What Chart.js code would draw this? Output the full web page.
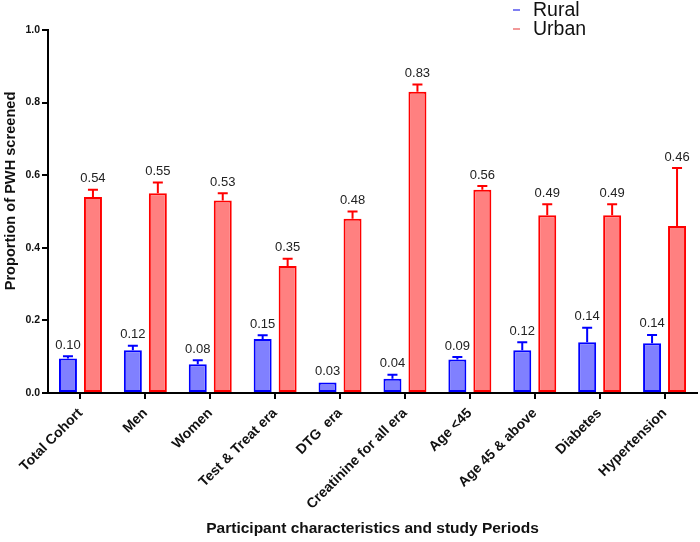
<!DOCTYPE html>
<html>
<head>
<meta charset="utf-8">
<script src="https://cdn.jsdelivr.net/npm/chart.js@4/dist/chart.umd.min.js"></script>
<style>
html,body{margin:0;padding:0;background:#fff;}
#wrap{width:700px;height:542px;position:relative;}
</style>
</head>
<body>
<div id="wrap"><canvas id="c" width="700" height="542"></canvas></div>
<script>
const categories = ["Total Cohort","Men","Women","Test & Treat era","DTG  era","Creatinine for all era","Age <45","Age 45 & above","Diabetes","Hypertension"];
const ruralValues = [0.095,0.118,0.079,0.149,0.029,0.039,0.092,0.118,0.14,0.137];
const ruralUpper  = [0.101,0.130,0.090,0.159,0.029,0.050,0.099,0.140,0.18,0.16];
const ruralLabels = ["0.10","0.12","0.08","0.15","0.03","0.04","0.09","0.12","0.14","0.14"];
const urbanValues = [0.54,0.55,0.53,0.35,0.48,0.83,0.56,0.49,0.49,0.46];
const urbanUpper  = [0.56,0.58,0.55,0.37,0.50,0.85,0.57,0.52,0.52,0.62];
const urbanLabels = ["0.54","0.55","0.53","0.35","0.48","0.83","0.56","0.49","0.49","0.46"];
const yTicks = [0,0.2,0.4,0.6,0.8,1.0];
const yTitle = 'Proportion of PWH screened';
const xTitle = 'Participant characteristics and study Periods';

const FONT = "'Liberation Sans', Arial, Helvetica, sans-serif";
const errUpper = [ruralUpper, urbanUpper];
const valLabels = [ruralLabels, urbanLabels];

const errorPlugin = {
  id: 'errorBars',
  afterDatasetsDraw(chart) {
    const ctx = chart.ctx;
    const y = chart.scales.y;
    chart.data.datasets.forEach((ds, di) => {
      const meta = chart.getDatasetMeta(di);
      meta.data.forEach((bar, i) => {
        const up = errUpper[di][i];
        const top = y.getPixelForValue(ds.data[i]);
        const ue = y.getPixelForValue(up);
        ctx.save();
        ctx.strokeStyle = ds.borderColor;
        ctx.lineWidth = 2;
        if (up > ds.data[i]) {
          ctx.beginPath();
          ctx.moveTo(bar.x, top);
          ctx.lineTo(bar.x, ue);
          ctx.moveTo(bar.x - 5, ue);
          ctx.lineTo(bar.x + 5, ue);
          ctx.stroke();
        }
        ctx.fillStyle = '#222';
        ctx.font = '13px ' + FONT;
        ctx.textAlign = 'center';
        ctx.textBaseline = 'middle';
        ctx.fillText(valLabels[di][i], bar.x, Math.min(ue, top) - 11);
        ctx.restore();
      });
    });
  }
};

const legendPlugin = {
  id: 'customLegend',
  afterDraw(chart) {
    const ctx = chart.ctx;
    const items = chart.data.datasets;
    ctx.save();
    ctx.font = '19.5px ' + FONT;
    ctx.textBaseline = 'middle';
    ctx.textAlign = 'left';
    items.forEach((ds, i) => {
      const yy = 10 + i * 19;
      ctx.strokeStyle = ds.legendColor;
      ctx.lineWidth = 1.5;
      ctx.beginPath();
      ctx.moveTo(513, yy);
      ctx.lineTo(520, yy);
      ctx.stroke();
      ctx.fillStyle = '#111';
      ctx.fillText(ds.label, 533, yy + 1);
    });
    // y-axis title
    ctx.translate(11, 191);
    ctx.rotate(-Math.PI / 2);
    ctx.font = 'bold 14.6px ' + FONT;
    ctx.textAlign = 'center';
    ctx.textBaseline = 'middle';
    ctx.fillStyle = '#111';
    ctx.fillText(yTitle, 0, 0);
    ctx.restore();
  }
};

new Chart(document.getElementById('c'), {
  type: 'bar',
  data: {
    labels: categories,
    datasets: [
      {label: 'Rural', data: ruralValues, backgroundColor: '#8080FF', borderColor: '#0000FF', legendColor: '#5555ee', borderWidth: 2, borderSkipped: false, categoryPercentage: 0.77, barPercentage: 0.72},
      {label: 'Urban', data: urbanValues, backgroundColor: '#FF8080', borderColor: '#FF0000', legendColor: '#ee7777', borderWidth: 2, borderSkipped: false, categoryPercentage: 0.77, barPercentage: 0.72}
    ]
  },
  options: {
    responsive: false,
    animation: false,
    devicePixelRatio: 1,
    layout: {padding: {left: 5, right: 3, top: 30, bottom: 4}},
    plugins: {legend: {display: false}, tooltip: {enabled: false}},
    scales: {
      x: {
        grid: {display: true, drawOnChartArea: false, drawTicks: true, tickLength: 6, offset: false, color: '#000', lineWidth: 2},
        border: {display: true, color: '#000', width: 2},
        ticks: {color: '#111', font: {family: FONT, size: 14, weight: 'bold'}, maxRotation: 45, minRotation: 45, autoSkip: false, padding: 6},
        title: {display: true, text: xTitle, color: '#111', font: {family: FONT, size: 15.5, weight: 'bold'}, padding: {top: 0, bottom: 0}},
        afterFit(scale) { scale.height = 145; }
      },
      y: {
        min: 0, max: 1,
        afterBuildTicks(scale) { scale.ticks = yTicks.map(v => ({value: v})); },
        grid: {display: true, drawOnChartArea: false, drawTicks: true, tickLength: 6, color: '#000', lineWidth: 2},
        border: {display: true, color: '#000', width: 2},
        ticks: {color: '#111', font: {family: FONT, size: 10.5, weight: 'bold'}, padding: 2, callback: v => Number(v).toFixed(1)},
        title: {display: false},
        afterFit(scale) { scale.width = 43; }
      }
    }
  },
  plugins: [errorPlugin, legendPlugin]
});
</script>
</body>
</html>
